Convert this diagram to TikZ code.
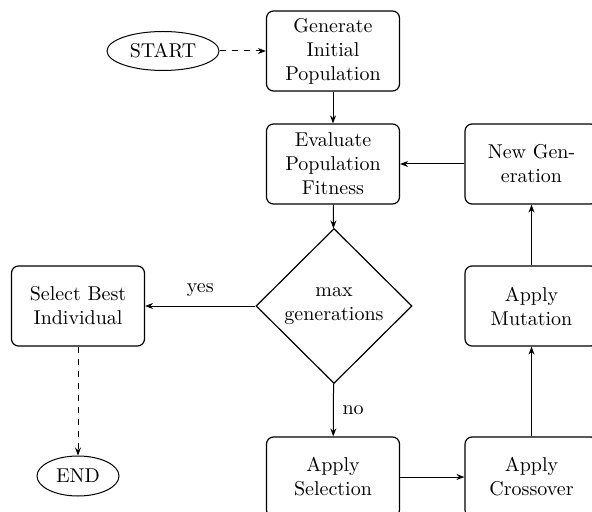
\documentclass[tikz,border=0pt]{standalone}
\usetikzlibrary{shapes.geometric,arrows.meta}
\begin{document}
\begin{tikzpicture}[x=1pt,y=1pt,
  every node/.style={font=\normalsize},
  procbox/.style={draw, line width=0.6pt, rounded corners=3.5pt, align=center,
    minimum width=66.5pt, minimum height=40pt, inner sep=2pt, text width=58pt},
  term/.style={draw, ellipse, line width=0.5pt, inner sep=0pt},
  decide/.style={draw, diamond, line width=0.6pt, inner sep=0pt, align=center,
    minimum width=78pt, minimum height=77.5pt},
  flow/.style={-{Stealth[length=4pt,width=3pt]}, line width=0.5pt},
  dflow/.style={flow, dashed}]
\useasboundingbox (0,0) rectangle (296,-256);

\node[term, minimum width=56pt, minimum height=19.5pt] (start) at (81.5,-25.5) {START};
\node[procbox] (gen) at (166.5,-25.5) {Generate\\Initial\\Population};
\node[procbox] (eval) at (166.5,-82) {Evaluate\\Population\\Fitness};
\node[decide] (dec) at (167,-153) {max\\generations};
\node[procbox] (best) at (39,-153) {Select Best\\Individual};
\node[term, minimum width=41pt, minimum height=20pt] (end) at (39,-238) {END};
\node[procbox] (sel) at (166.5,-238.5) {Apply\\Selection};
\node[procbox] (cross) at (265.75,-238.5) {Apply\\Crossover};
\node[procbox] (mut) at (265.75,-153) {Apply\\Mutation};
\node[procbox] (newgen) at (265.75,-82) {New Gen-\\eration};

\draw[dflow] (start) -- (gen);
\draw[flow] (gen) -- (eval);
\draw[flow] (eval) -- (dec);
\draw[flow] (dec) -- node[above, yshift=1pt] {yes} (best);
\draw[dflow] (best) -- (end);
\draw[flow] (dec) -- node[right, xshift=1pt] {no} (sel);
\draw[flow] (sel) -- (cross);
\draw[flow] (cross) -- (mut);
\draw[flow] (mut) -- (newgen);
\draw[flow] (newgen) -- (eval);
\end{tikzpicture}
\end{document}
